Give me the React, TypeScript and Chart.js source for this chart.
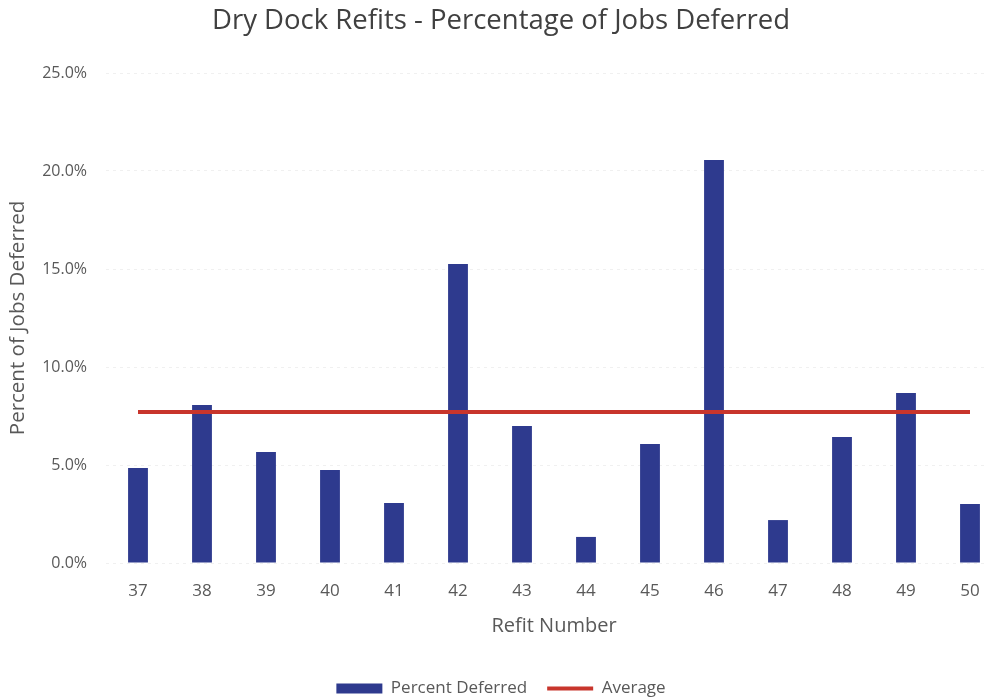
import React, { useEffect, useRef } from "react";
import { Chart, registerables } from "chart.js";

Chart.register(...registerables);

const refitNumbers = ["37", "38", "39", "40", "41", "42", "43", "44", "45", "46", "47", "48", "49", "50"];
const percentDeferred = [4.85, 8.06, 5.66, 4.74, 3.06, 15.26, 6.99, 1.33, 6.07, 20.56, 2.19, 6.43, 8.67, 3.01];
const averageDeferred = [7.7, 7.7, 7.7, 7.7, 7.7, 7.7, 7.7, 7.7, 7.7, 7.7, 7.7, 7.7, 7.7, 7.7];
const yTicks = [0, 5, 10, 15, 20, 25];

const FONT = "'Open Sans', Lato, sans-serif";

export default function App() {
  const ref = useRef<HTMLCanvasElement | null>(null);

  useEffect(() => {
    document.body.style.margin = "0";
    const canvas = ref.current;
    if (!canvas) return;
    const chart = new Chart(canvas, {
      type: "bar",
      data: {
        labels: refitNumbers,
        datasets: [
          {
            type: "line",
            label: "Average",
            data: averageDeferred,
            borderColor: "#c8352c",
            backgroundColor: "#c8352c",
            borderWidth: 4,
            pointRadius: 0,
            pointStyle: "line",
            order: 0,
          },
          {
            type: "bar",
            label: "Percent Deferred",
            data: percentDeferred,
            backgroundColor: "#2e3a8e",
            borderWidth: 0,
            barPercentage: 0.62,
            categoryPercentage: 0.5,
            pointStyle: "rect",
            order: 1,
          },
        ],
      },
      options: {
        animation: false,
        responsive: false,
        layout: { padding: { top: 5, right: 4, left: 0, bottom: 0 } },
        plugins: {
          title: {
            display: true,
            text: "Dry Dock Refits - Percentage of Jobs Deferred",
            color: "#404040",
            font: { family: FONT, size: 27.5, weight: "normal" },
            padding: { top: 0, bottom: 35 },
          },
          legend: {
            position: "bottom",
            reverse: true,
            labels: {
              usePointStyle: true,
              pointStyleWidth: 46,
              boxHeight: 10,
              color: "#595959",
              font: { family: FONT, size: 17 },
              padding: 20,
            },
          },
          tooltip: { enabled: false },
        },
        scales: {
          x: {
            afterFit: (s: any) => {
              s.height = 97;
            },
            grid: { display: false, drawTicks: false },
            border: { display: false },
            ticks: { color: "#595959", font: { family: FONT, size: 17 }, padding: 18 },
            title: {
              display: true,
              text: "Refit Number",
              color: "#595959",
              font: { family: FONT, size: 20 },
              padding: { top: 8, bottom: 22 },
            },
          },
          y: {
            min: 0,
            max: 25,
            afterBuildTicks: (s: any) => {
              s.ticks = yTicks.map((v) => ({ value: v }));
            },
            afterFit: (s: any) => {
              s.width = 106;
            },
            grid: { color: "rgba(0,0,0,0.06)", drawTicks: false },
            border: { display: false, dash: [3, 4] },
            ticks: {
              color: "#595959",
              font: { family: FONT, size: 16 },
              padding: 19,
              callback: (v: any) => Number(v).toFixed(1) + "%",
            },
            title: {
              display: true,
              text: "Percent of Jobs Deferred",
              color: "#595959",
              font: { family: FONT, size: 20.5 },
              padding: { top: 6, bottom: 0 },
            },
          },
        },
      },
    });
    return () => chart.destroy();
  }, []);

  return (
    <div style={{ width: 986, height: 698, overflow: "hidden", background: "#fff" }}>
      <canvas ref={ref} width={1006} height={707} style={{ display: "block" }} />
    </div>
  );
}
